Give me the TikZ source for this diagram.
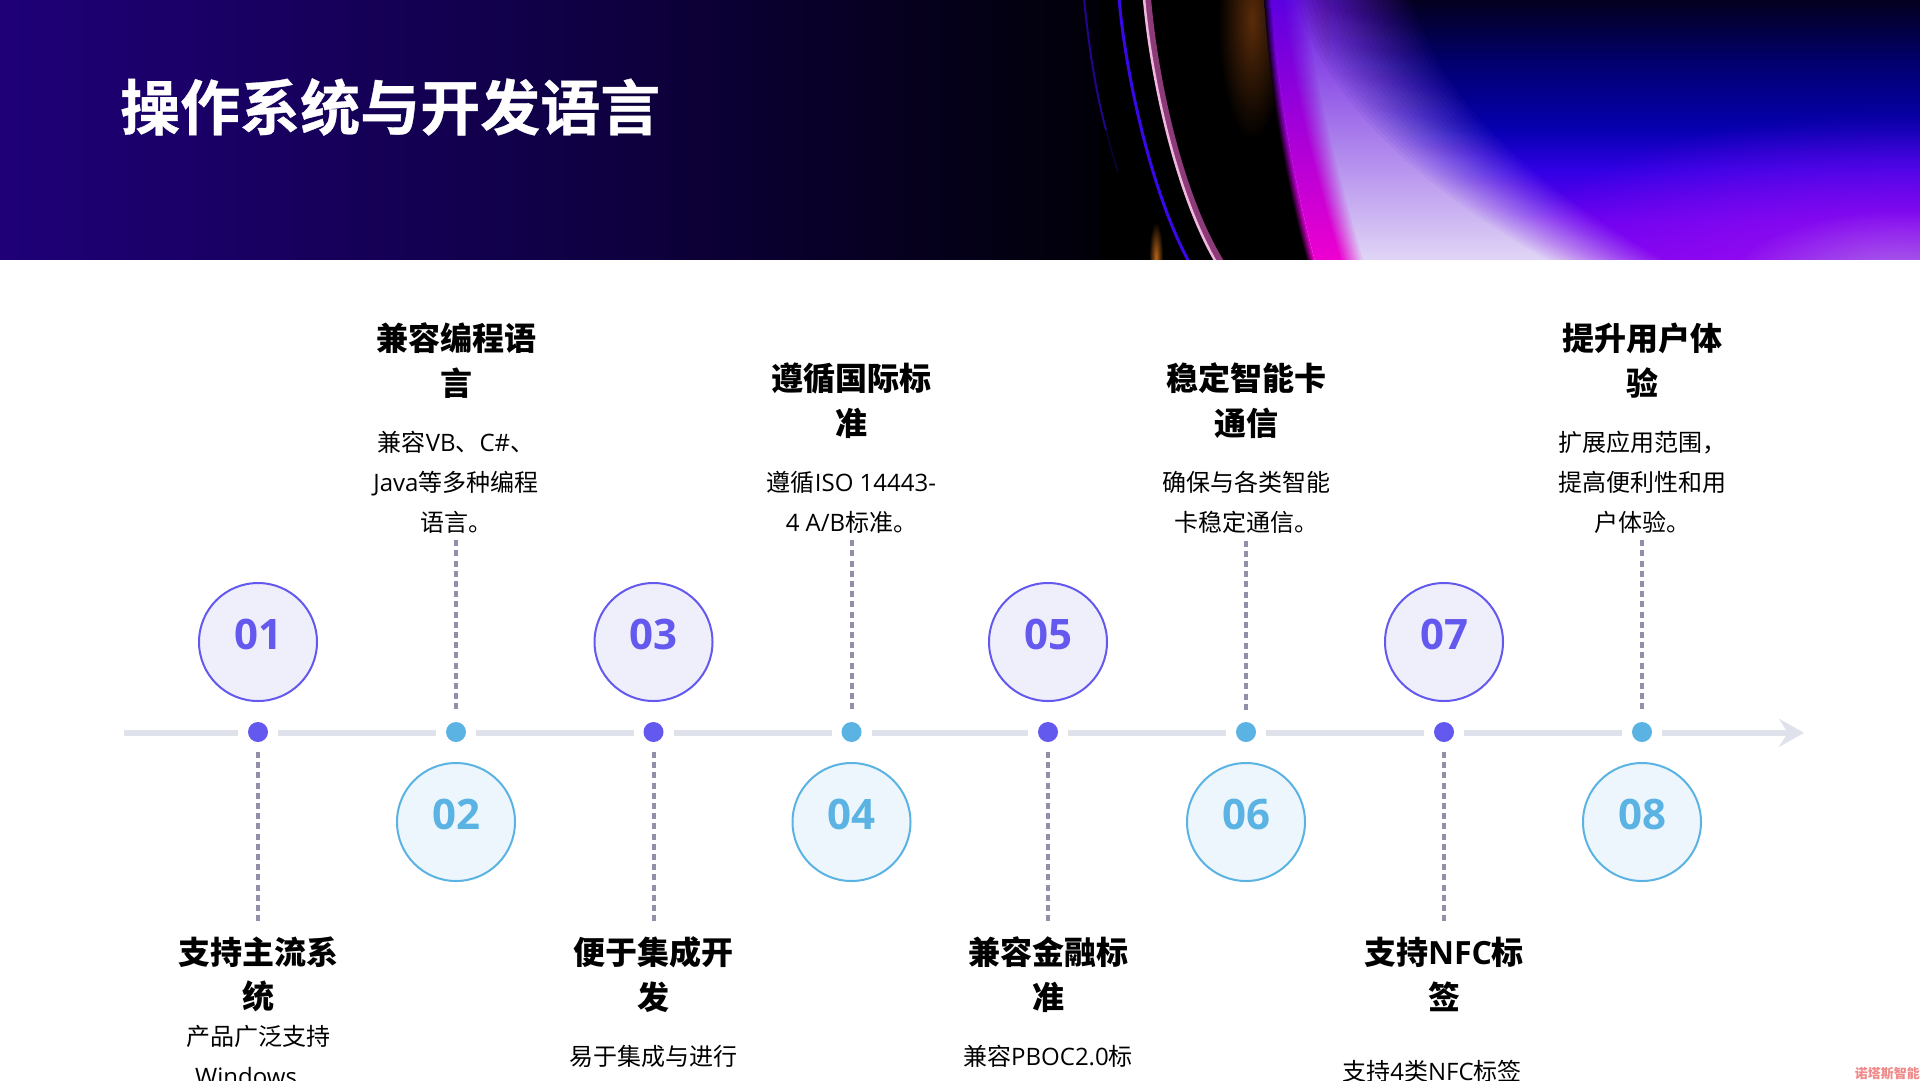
\documentclass[tikz,border=0pt]{standalone}
\usepackage{fontspec}
\setmainfont{Noto Sans CJK SC}
\newfontfamily\numfont{Open Sans}
\newfontfamily\titlefont[UprightFont=* Bold, FakeBold=0.6]{Noto Sans CJK SC}
\newcommand{\lat}[1]{{\numfont #1}}
\usepackage{tikz}
\usetikzlibrary{positioning, arrows.meta, calc, fadings}
\definecolor{indigoback}{HTML}{1F0078}
\definecolor{indigomid}{HTML}{0E0040}
\definecolor{nightback}{HTML}{010008}
\definecolor{brownglow}{HTML}{5A2C0A}
\definecolor{orangeglow}{HTML}{B8641A}
\definecolor{lavtop}{HTML}{6A18E0}
\definecolor{lavbot}{HTML}{E2D8F6}
\definecolor{magtop}{HTML}{5A00E0}
\definecolor{magbot}{HTML}{F000D0}
\definecolor{glowpurple}{HTML}{9A10F0}
\definecolor{glowlilac}{HTML}{B080E8}
\definecolor{linepurple}{HTML}{3A08E8}
\definecolor{linepink}{HTML}{F2B8E0}
\definecolor{pinkglow}{HTML}{8C3A78}
\definecolor{purplepoint}{HTML}{6359EE}
\definecolor{purplefill}{HTML}{EFEEFB}
\definecolor{bluepoint}{HTML}{5BB3E3}
\definecolor{bluefill}{HTML}{EDF6FD}
\definecolor{dashgray}{HTML}{9090AA}
\definecolor{axisgray}{HTML}{DFE1EB}
\definecolor{stampred}{HTML}{F08A8A}
\tikzfading[name=softblob, inner color=transparent!0, outer color=transparent!100]
\tikzstyle{numcircle} = [circle, minimum size=118pt, inner sep=0pt, line width=2pt]
\tikzstyle{purplecircle} = [numcircle, draw=purplepoint, fill=purplefill]
\tikzstyle{bluecircle} = [numcircle, draw=bluepoint, fill=bluefill]
\tikzstyle{numtext} = [font=\numfont\bfseries\fontsize{42}{42}\selectfont, inner sep=0pt]
\tikzstyle{purpledot} = [circle, minimum size=20pt, inner sep=0pt, outer sep=10pt, fill=purplepoint]
\tikzstyle{bluedot} = [circle, minimum size=20pt, inner sep=0pt, outer sep=10pt, fill=bluepoint]
\tikzstyle{headtext} = [font=\bfseries\fontsize{32}{44.5}\selectfont, align=center, inner sep=0pt]
\tikzstyle{bodytext} = [font=\fontsize{24}{40}\selectfont, align=center, inner sep=0pt]
\tikzstyle{axisline} = [line width=6pt, draw=axisgray]
\tikzstyle{dashline} = [line width=4pt, draw=dashgray, dash pattern=on 6pt off 4.2pt]
% curved edges of the glow in the banner
\newcommand{\lavband}[2]{({1272+#1},-4) .. controls ({1277+#1},90) and ({1296+#1},190) .. ({1316+#1},264) -- ({1600+#2},264) .. controls ({1450+#2},180) and ({1365+#2},90) .. ({1340+#2},-4) -- cycle}
\newcommand{\magband}[2]{({1272+#1},-4) .. controls ({1277+#1},90) and ({1296+#1},190) .. ({1316+#1},264) -- ({1352+#2},264) .. controls ({1330+#2},190) and ({1303+#2},90) .. ({1292+#2},-4) -- cycle}
\begin{document}
\begin{tikzpicture}[x=1pt, y=-1pt]
    \useasboundingbox (0,0) rectangle (1920,1080);
    \fill [white] (0,0) rectangle (1920,1080);
    \begin{scope}
        % banner
        \clip (0,0) rectangle (1920,259.5);
        \shade [left color=indigoback, right color=indigomid] (0,0) rectangle (620,260);
        \shade [left color=indigomid, right color=nightback] (619,0) rectangle (1100,260);
        \fill [black] (1099,0) rectangle (1400,260);
        \fill [brownglow, path fading=softblob] (1252,20) ellipse (34 and 120);
        \foreach \ya/\yb/\ca/\cb in {0/60/03001F/02006A, 59/130/02006A/0600B0, 129/170/0600B0/3000E4, 169/220/3000E4/6800F0, 219/260/6800F0/8000F0} {
            \definecolor{ctop}{HTML}{\ca}
            \definecolor{cbot}{HTML}{\cb}
            \shade [top color=ctop, bottom color=cbot] (1330,\ya) rectangle (1920,\yb);
        }
        \fill [glowpurple, path fading=softblob] (1900,300) ellipse (420 and 190);
        \fill [glowlilac, path fading=softblob] (1900,295) ellipse (180 and 85);
        \foreach \k in {0,...,7} {
            \pgfmathsetmacro{\lo}{-8+\k}
            \pgfmathsetmacro{\p}{100*(\k+1)/8}
            \shade [top color=magtop!\p!black, bottom color=magbot!\p!black] \magband{\lo}{0};
        }
        \foreach \k in {0,...,23} {
            \pgfmathsetmacro{\ro}{70-5*\k}
            \pgfmathsetmacro{\op}{1/(24-\k)}
            \shade [top color=lavtop, bottom color=lavbot, opacity=\op] \lavband{0}{\ro};
        }
        \foreach \k in {0,...,9} {
            \pgfmathsetmacro{\ro}{12-2.4*\k}
            \pgfmathsetmacro{\op}{1/(10-\k)}
            \shade [top color=magtop, bottom color=magbot, opacity=\op] \magband{0}{\ro};
        }
        \draw [line width=2pt, linepurple!60!black] (1084,-2) .. controls (1090,60) and (1098,100) .. (1106,130);
        \draw [line width=1.5pt, linepurple!25!black] (1106,130) .. controls (1110,145) and (1114,160) .. (1118,172);
        \draw [line width=3pt, linepurple] (1119,-2) .. controls (1125,70) and (1150,190) .. (1189,262);
        \draw [line width=6pt, pinkglow] (1148,-2) .. controls (1154,70) and (1177,190) .. (1221,262);
        \draw [line width=2.5pt, linepink] (1144,-2) .. controls (1150,70) and (1174,190) .. (1216,262);
        \fill [orangeglow, path fading=softblob] (1156,258) ellipse (7 and 36);
    \end{scope}
    \node (title) [anchor=west, inner sep=0pt, text=white, font=\titlefont\fontsize{60}{60}\selectfont] at (120,107) {操作系统与开发语言};
    % circles on the timeline
    \node (c1) [purplecircle] at (258,642) {};
    \node (c2) [bluecircle] at (456,822) {};
    \node (c3) [purplecircle] at (653.5,642) {};
    \node (c4) [bluecircle] at (851.5,822) {};
    \node (c5) [purplecircle] at (1048,642) {};
    \node (c6) [bluecircle] at (1246,822) {};
    \node (c7) [purplecircle] at (1444,642) {};
    \node (c8) [bluecircle] at (1642,822) {};
    \node (n1) [numtext, text=purplepoint] at (258,634) {01};
    \node (n2) [numtext, text=bluepoint] at (456,814) {02};
    \node (n3) [numtext, text=purplepoint] at (653.5,634) {03};
    \node (n4) [numtext, text=bluepoint] at (851.5,814) {04};
    \node (n5) [numtext, text=purplepoint] at (1048,634) {05};
    \node (n6) [numtext, text=bluepoint] at (1246,814) {06};
    \node (n7) [numtext, text=purplepoint] at (1444,634) {07};
    \node (n8) [numtext, text=bluepoint] at (1642,814) {08};
    \node (d1) [purpledot] at (258,732) {};
    \node (d2) [bluedot] at (456,732) {};
    \node (d3) [purpledot] at (653.5,732) {};
    \node (d4) [bluedot] at (851.5,732) {};
    \node (d5) [purpledot] at (1048,732) {};
    \node (d6) [bluedot] at (1246,732) {};
    \node (d7) [purpledot] at (1444,732) {};
    \node (d8) [bluedot] at (1642,732) {};
    \coordinate (start) at (124,732.8);
    \coordinate (tip) at (1804,732.8);
    \draw [axisline] (start) -- (d1.west |- start);
    \draw [axisline] (d1.east |- start) -- (d2.west |- start);
    \draw [axisline] (d2.east |- start) -- (d3.west |- start);
    \draw [axisline] (d3.east |- start) -- (d4.west |- start);
    \draw [axisline] (d4.east |- start) -- (d5.west |- start);
    \draw [axisline] (d5.east |- start) -- (d6.west |- start);
    \draw [axisline] (d6.east |- start) -- (d7.west |- start);
    \draw [axisline] (d7.east |- start) -- (d8.west |- start);
    \draw [axisline, -{Stealth[length=25pt, width=28pt, inset=9pt]}] (d8.east |- start) -- (tip);
    % texts below the line
    \node (h1) [headtext, outer ysep=14pt] at (258,974.5) {支持主流系\\统};
    \node (h3) [headtext, outer ysep=14pt] at (653.5,974.5) {便于集成开\\发};
    \node (h5) [headtext, outer ysep=14pt] at (1048,974.5) {兼容金融标\\准};
    \node (h7) [headtext, outer ysep=14pt] at (1444,974.5) {支持\lat{NFC}标\\签};
    \node (b1) [bodytext] at (258,1056) {产品广泛支持\\\lat{Windows}\hspace*{24pt}};
    \node (b3) [bodytext] at (653.5,1056) {易于集成与进行};
    \node (b5) [bodytext] at (1048,1056) {兼容\lat{PBOC2.0}标};
    \node (b7) [bodytext] at (1444,1071) {支持\lat{4}类\lat{NFC}标签\hspace*{24pt}};
    % texts above the line
    \node (h2) [headtext] at (456,360.5) {兼容编程语\\言};
    \node (h4) [headtext] at (851.5,400.5) {遵循国际标\\准};
    \node (h6) [headtext] at (1246,400.5) {稳定智能卡\\通信};
    \node (h8) [headtext] at (1642,360.5) {提升用户体\\验};
    \node (b2) [bodytext, outer ysep=7pt] at (456,482) {兼容\lat{VB}、\lat{C\#}、\\\lat{Java}等多种编程\\语言。};
    \node (b4) [bodytext, outer ysep=7pt] at (851.5,502) {遵循\lat{ISO 14443-}\\\lat{4 A/B}标准。};
    \node (b6) [bodytext, outer ysep=7pt] at (1246,502.5) {确保与各类智能\\卡稳定通信。};
    \node (b8) [bodytext, outer ysep=7pt] at (1642,482) {扩展应用范围，\\提高便利性和用\\户体验。};
    \draw [dashline] (d1.south) -- (h1.north);
    \draw [dashline] (b2.south) -- (d2.north);
    \draw [dashline] (d3.south) -- (h3.north);
    \draw [dashline] (b4.south) -- (d4.north);
    \draw [dashline] (d5.south) -- (h5.north);
    \draw [dashline] (b6.south) -- (d6.north);
    \draw [dashline] (d7.south) -- (h7.north);
    \draw [dashline] (b8.south) -- (d8.north);
    \node (stamp) [anchor=east, inner sep=0pt, text=stampred, font=\bfseries\fontsize{13}{13}\selectfont] at (1920,1074) {诺塔斯智能};
\end{tikzpicture}
\end{document}
